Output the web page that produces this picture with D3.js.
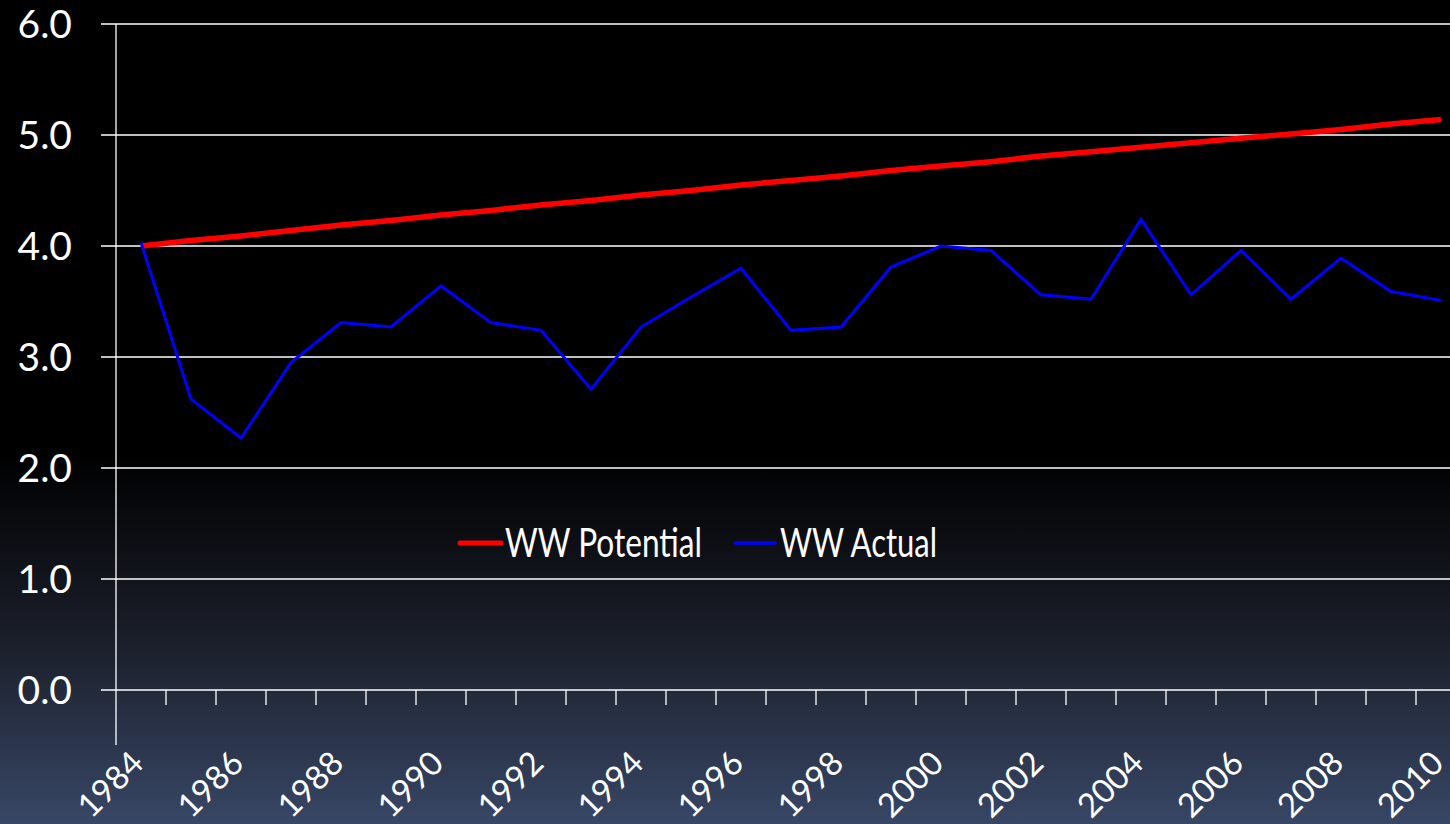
<!DOCTYPE html>
<html lang="en">
<head>
  <meta charset="utf-8" />
  <script src="https://d3js.org/d3.v7.min.js"></script>
  <style>
    body { margin: 0; background: #000; }
    svg text { font-family: Lato, "Open Sans", sans-serif; fill: #fff; }
  </style>
</head>
<body>
<script>
  // data
  var years = d3.range(1984, 2011);
  var potential = [4.00, 4.05, 4.09, 4.14, 4.19, 4.23, 4.28, 4.32, 4.37, 4.41, 4.46, 4.50, 4.55, 4.59,
                   4.63, 4.68, 4.72, 4.76, 4.81, 4.85, 4.89, 4.93, 4.97, 5.01, 5.05, 5.10, 5.14];
  var actual = [4.03, 2.62, 2.27, 2.95, 3.31, 3.27, 3.64, 3.31, 3.24, 2.71, 3.27, 3.54, 3.80, 3.24,
                3.27, 3.81, 4.00, 3.96, 3.56, 3.52, 4.24, 3.56, 3.96, 3.52, 3.89, 3.59, 3.51];
  var yTicks = [0, 1, 2, 3, 4, 5, 6];
  var seriesNames = ["WW Potential", "WW Actual"];

  var W = 1450, H = 824;

  var svg = d3.select("body").append("svg")
    .attr("width", W)
    .attr("height", H);

  // background gradient, black to slate blue at the bottom
  var grad = svg.append("defs").append("linearGradient")
    .attr("id", "bg").attr("x1", 0).attr("y1", 0).attr("x2", 0).attr("y2", 1);
  grad.append("stop").attr("offset", 0).attr("stop-color", "#000");
  grad.append("stop").attr("offset", 0.55).attr("stop-color", "#000");
  grad.append("stop").attr("offset", 0.78).attr("stop-color", "#1b1f2b");
  grad.append("stop").attr("offset", 1).attr("stop-color", "#384766");
  svg.append("rect").attr("width", W).attr("height", H).attr("fill", "url(#bg)");

  var x = d3.scaleBand().domain(years).range([116, 116 + years.length * 50]).padding(0);
  var y = d3.scaleLinear().domain([0, 6]).range([690, 24]);
  var cx = function (yr) { return x(yr) + x.bandwidth() / 2; };

  // horizontal gridlines
  svg.append("g").selectAll("line")
    .data(yTicks)
    .join("line")
    .attr("x1", 101).attr("x2", W)
    .attr("y1", function (d) { return y(d); })
    .attr("y2", function (d) { return y(d); })
    .attr("stroke", "#fff").attr("stroke-width", 1.3);

  // y labels
  svg.append("g").selectAll("text")
    .data(yTicks)
    .join("text")
    .attr("x", 72)
    .attr("y", function (d) { return y(d); })
    .attr("dy", "0.36em")
    .attr("text-anchor", "end")
    .style("font-size", "39px")
    .text(function (d) { return d.toFixed(1); });

  // y axis line (runs below the category axis)
  svg.append("line")
    .attr("x1", 116).attr("x2", 116).attr("y1", 24).attr("y2", 745)
    .attr("stroke", "#fff").attr("stroke-width", 1.3);

  // x tick marks at band edges
  svg.append("g").selectAll("line")
    .data(years.slice(1))
    .join("line")
    .attr("x1", function (d) { return x(d); })
    .attr("x2", function (d) { return x(d); })
    .attr("y1", 690).attr("y2", 705)
    .attr("stroke", "#fff").attr("stroke-width", 1.3);

  // x labels, every other year, rotated
  svg.append("g").selectAll("text")
    .data(years.filter(function (d, i) { return i % 2 === 0; }))
    .join("text")
    .attr("text-anchor", "middle")
    .attr("dy", "0.36em")
    .attr("transform", function (d) { return "translate(" + (cx(d) - 31) + ",784) rotate(-45)"; })
    .style("font-size", "33px")
    .text(function (d) { return d; });

  var line = d3.line()
    .x(function (d, i) { return cx(years[i]); })
    .y(function (d) { return y(d); });

  svg.append("path").datum(potential)
    .attr("d", line).attr("fill", "none")
    .attr("stroke", "#ff0000").attr("stroke-width", 5.5);

  svg.append("path").datum(actual)
    .attr("d", line).attr("fill", "none")
    .attr("stroke", "#0000ff").attr("stroke-width", 3);

  // legend
  var legend = [
    { name: seriesNames[0], color: "#ff0000", w: 5, x0: 460, x1: 501, tx: 505, tw: 197 },
    { name: seriesNames[1], color: "#0000ff", w: 3.5, x0: 735, x1: 775, tx: 780, tw: 157 }
  ];
  var lg = svg.append("g").selectAll("g").data(legend).join("g");
  lg.append("line")
    .attr("x1", function (d) { return d.x0; })
    .attr("x2", function (d) { return d.x1; })
    .attr("y1", 543).attr("y2", 543)
    .attr("stroke", function (d) { return d.color; })
    .attr("stroke-width", function (d) { return d.w; })
    .attr("stroke-linecap", "round");
  lg.append("text")
    .attr("x", function (d) { return d.tx; })
    .attr("y", 557)
    .attr("textLength", function (d) { return d.tw; })
    .attr("lengthAdjust", "spacingAndGlyphs")
    .style("font-size", "40px")
    .text(function (d) { return d.name; });
</script>
</body>
</html>
